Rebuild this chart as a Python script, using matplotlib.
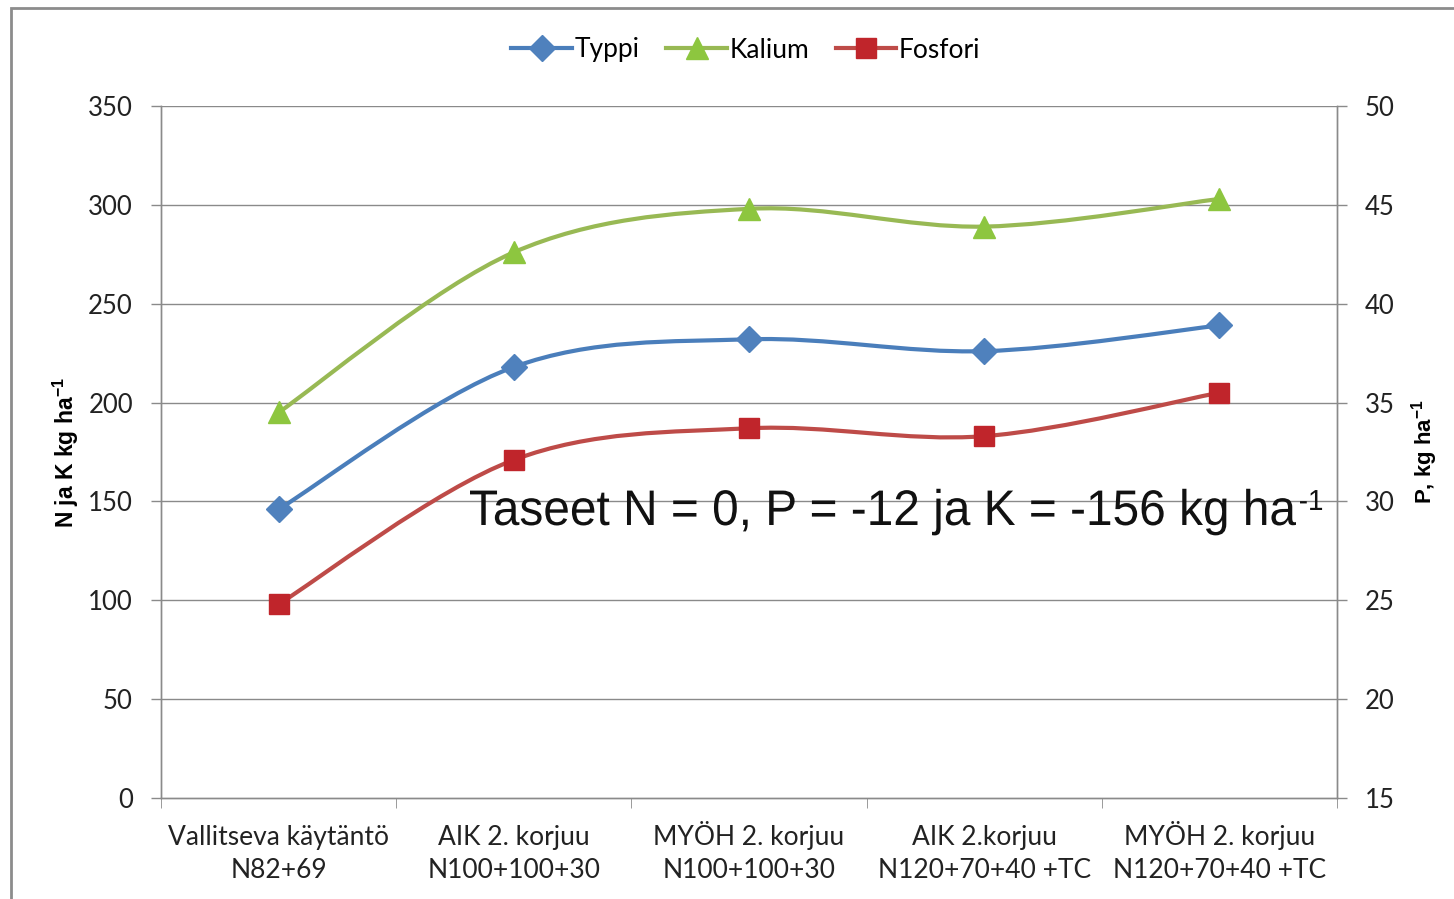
import numpy as np
import matplotlib.pyplot as plt
from matplotlib.path import Path
from matplotlib.patches import PathPatch, Rectangle
from matplotlib.lines import Line2D
from matplotlib.textpath import TextPath
from matplotlib.font_manager import FontProperties
from matplotlib.transforms import Affine2D, blended_transform_factory

categories = [("Vallitseva käytäntö", "N82+69"), ("AIK 2. korjuu", "N100+100+30"),
              ("MYÖH 2. korjuu", "N100+100+30"), ("AIK 2.korjuu", "N120+70+40 +TC"),
              ("MYÖH 2. korjuu", "N120+70+40 +TC")]
typpi = [146, 218, 232, 226, 239]
kalium = [195, 276, 298, 289, 303]
fosfori = [24.8, 32.1, 33.7, 33.3, 35.5]

left_ticks = [0, 50, 100, 150, 200, 250, 300, 350]
right_ticks = [15, 20, 25, 30, 35, 40, 45, 50]

FONT = ["Lato", "DejaVu Sans"]
plt.rcParams["mathtext.fontset"] = "custom"
plt.rcParams["mathtext.rm"] = "Liberation Sans"
plt.rcParams["mathtext.bf"] = "Liberation Sans:bold"


def smooth_path(x, y):
    # excel-like smoothed line: cubic bezier with catmull-rom control points
    pts = np.column_stack([x, y]).astype(float)
    n = len(pts)
    verts = [pts[0]]
    codes = [Path.MOVETO]
    t = 1.0 / 6
    for i in range(n - 1):
        p0 = pts[i - 1] if i > 0 else pts[i]
        p1 = pts[i]
        p2 = pts[i + 1]
        p3 = pts[i + 2] if i + 2 < n else pts[i + 1]
        c1 = p1 + (p2 - p0) * t
        c2 = p2 - (p3 - p1) * t
        verts += [c1, c2, p2]
        codes += [Path.CURVE4] * 3
    return Path(verts, codes)


W, H = 1454, 899
fig = plt.figure(figsize=(W / 100, H / 100), dpi=100)
ax = fig.add_axes([161 / W, 1 - 798 / H, (1337 - 161) / W, (798 - 106) / H])
ax2 = ax.twinx()

x = np.arange(len(categories))
ax.set_xlim(-0.5, len(categories) - 0.5)
ax.set_ylim(0, 350)
ax2.set_ylim(15, 50)

# border round the chart
fig.patches.append(Rectangle((11 / W, -0.01), 1.0, 1 - 8 / H + 0.01,
                             transform=fig.transFigure, fill=False,
                             edgecolor="#8c8c8c", linewidth=2.0))

for v in left_ticks[1:]:
    ax.axhline(v, color="#8a8a8a", linewidth=1.0, zorder=0)

series = [
    (ax, typpi, "#4A7EBB", "#4F81BD", "D", 13, "Typpi"),
    (ax, kalium, "#98B954", "#8DC63F", "^", 16, "Kalium"),
    (ax2, fosfori, "#BE4B48", "#C0252B", "s", 14, "Fosfori"),
]
handles = []
for a, vals, lc, mc, m, ms, name in series:
    a.add_patch(PathPatch(smooth_path(x, vals), facecolor="none", edgecolor=lc,
                          linewidth=3.0, zorder=3))
    a.plot(x, vals, linestyle="none", marker=m, markersize=ms,
           markerfacecolor=mc, markeredgecolor=mc, zorder=4)
    handles.append(Line2D([], [], color=lc, linewidth=3.0, marker=m,
                          markersize=ms, markerfacecolor=mc, markeredgecolor=mc))

ax.set_yticks(left_ticks)
ax2.set_yticks(right_ticks)
ax.set_xticks(x)
ax.set_xticklabels([])
ax.set_xticks(np.arange(-0.5, len(categories)), minor=True)
ax.tick_params(axis="x", which="major", length=0)
ax.tick_params(axis="x", which="minor", length=7.2, color="#8a8a8a", direction="out")
for a in (ax, ax2):
    a.tick_params(axis="y", length=7.2, color="#8a8a8a", width=1.0, pad=13,
                  labelsize=18.5)
for lab in ax.get_yticklabels() + ax2.get_yticklabels():
    lab.set_family(FONT)
    lab.set_color("#222222")

# two-line category labels
tr = blended_transform_factory(ax.transData, fig.transFigure)
for i, (l1, l2) in enumerate(categories):
    ax.text(i, 1 - 845 / H, l1, transform=tr, ha="center", va="baseline",
            fontsize=19, family=FONT, color="#222222")
    ax.text(i, 1 - 878 / H, l2, transform=tr, ha="center", va="baseline",
            fontsize=19, family=FONT, color="#222222")

for a in (ax, ax2):
    a.spines["top"].set_visible(False)
    for s in ("left", "right", "bottom"):
        a.spines[s].set_color("#8a8a8a")
        a.spines[s].set_linewidth(1.0)

ax.set_ylabel(r"N ja K kg ha$^{\mathbf{-1}}$", fontsize=16.5, fontweight="bold",
              family=["Liberation Sans", "DejaVu Sans"])
ax.yaxis.set_label_coords(81 / W, 1 - 452 / H, transform=fig.transFigure)
ax2.set_ylabel(r"P, kg ha$^{\mathbf{-1}}$", fontsize=16, fontweight="bold",
               family=["Liberation Sans", "DejaVu Sans"], rotation=90)
ax2.yaxis.set_label_coords(1409 / W, 1 - 452 / H, transform=fig.transFigure)

# annotation in a narrow face: squeeze Liberation Sans horizontally
fp = FontProperties(family="Liberation Sans")
main = TextPath((0, 0), "Taseet N = 0, P = -12 ja K = -156 kg ha", size=50, prop=fp)
sup = TextPath((0, 0), "-1", size=29, prop=fp)
bb = main.get_extents()
sx = (1296 - 470) / bb.width
fig.patches.append(PathPatch(main, facecolor="#111111", edgecolor="none",
                             transform=Affine2D().translate(-bb.x0, 0)
                             .scale(sx, 1).translate(470, H - 525), zorder=5))
sb = sup.get_extents()
fig.patches.append(PathPatch(sup, facecolor="#111111", edgecolor="none",
                             transform=Affine2D().translate(-sb.x0, 0)
                             .scale(sx, 1).translate(1300, H - 510), zorder=5))

fig.legend(handles, ["Typpi", "Kalium", "Fosfori"], loc="center",
           bbox_to_anchor=(746 / W, 1 - 50 / H), ncol=3, frameon=False,
           prop={"family": FONT, "size": 19}, handlelength=2.3,
           handletextpad=0.1, columnspacing=1.0)

fig.savefig("out.png", dpi=100)
